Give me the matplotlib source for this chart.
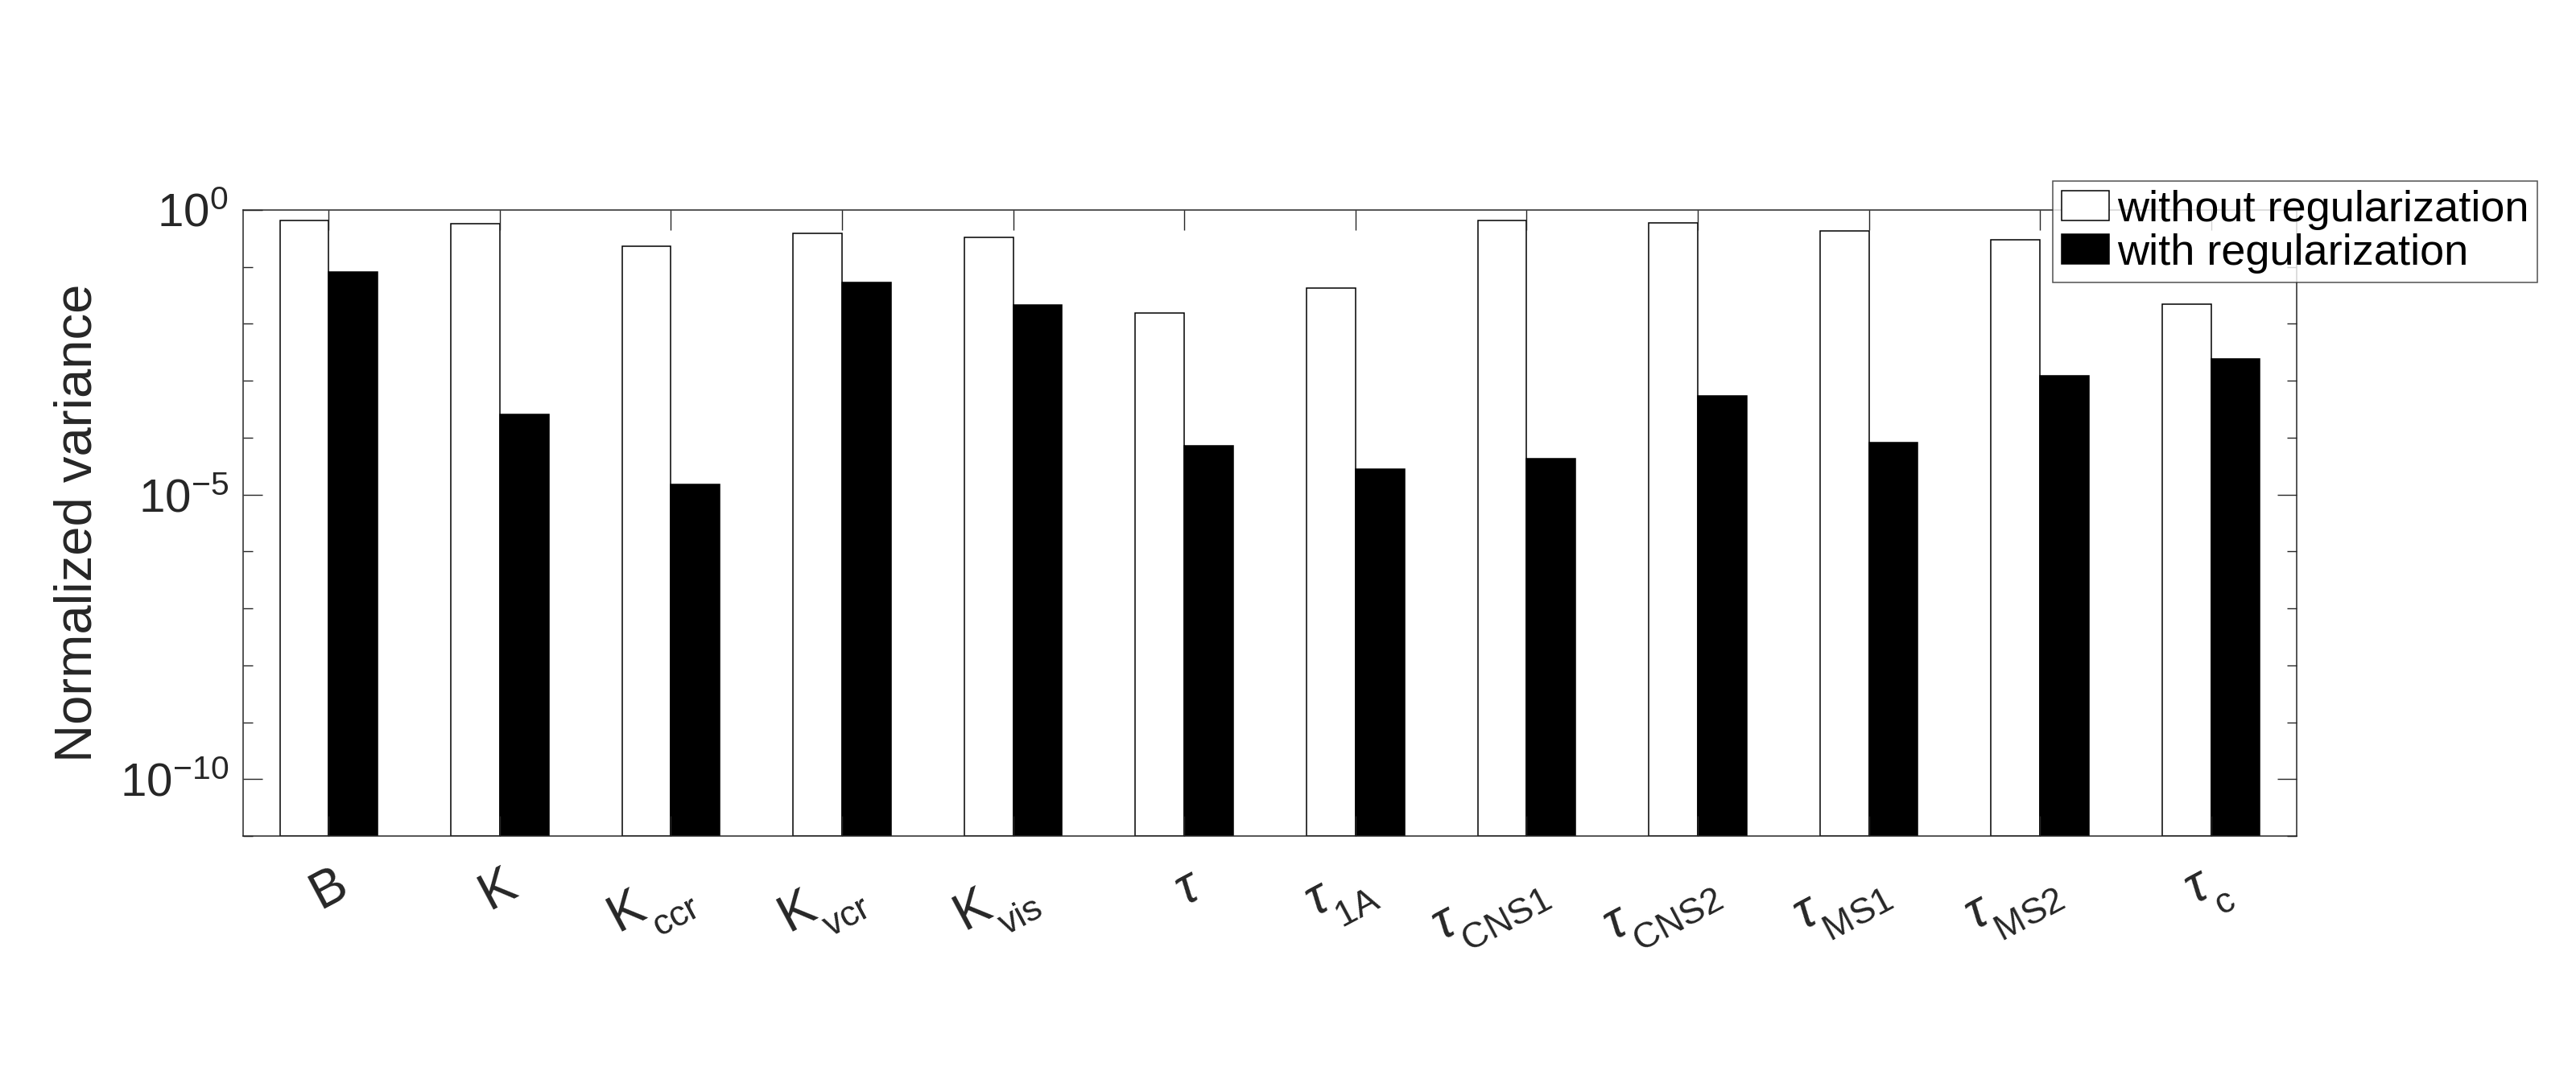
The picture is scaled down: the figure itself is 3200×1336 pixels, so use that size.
import numpy as np
import matplotlib
matplotlib.use("Agg")
import matplotlib.pyplot as plt
import matplotlib._mathtext as mathtext
from matplotlib.ticker import NullFormatter, FixedLocator
from matplotlib.transforms import ScaledTranslation

plt.rcParams['font.family'] = ['Liberation Sans', 'DejaVu Sans']
plt.rcParams['mathtext.fontset'] = 'custom'
plt.rcParams['mathtext.rm'] = 'Liberation Sans'
plt.rcParams['mathtext.it'] = 'Liberation Sans:italic'
plt.rcParams['mathtext.bf'] = 'Liberation Sans:bold'
# subscritos mais baixos, como no MATLAB
mathtext.FontConstantsBase.sub1 = 0.83

# parametros
param_labels = [r'$\mathrm{B}$', r'$\mathrm{K}$', r'$\mathrm{K}_{\mathrm{ccr}}$',
                r'$\mathrm{K}_{\mathrm{vcr}}$', r'$\mathrm{K}_{\mathrm{vis}}$',
                r'$\tau$', r'$\tau_{\mathrm{1A}}$', r'$\tau_{\mathrm{CNS1}}$', r'$\tau_{\mathrm{CNS2}}$',
                r'$\tau_{\mathrm{MS1}}$', r'$\tau_{\mathrm{MS2}}$', r'$\tau_{\mathrm{c}}$']

# variancia normalizada
var_without = [0.646, 0.575, 0.234, 0.389, 0.331, 0.0155, 0.0427, 0.646, 0.589, 0.427, 0.295, 0.0219]
var_with = [0.0813, 2.57e-4, 1.51e-5, 0.0537, 0.0214, 7.24e-5, 2.82e-5, 4.27e-5, 5.5e-4, 8.3e-5, 1.23e-3, 2.4e-3]

ytick_major = [1e-10, 1e-5, 1e0]
ytick_minor = [1e-11, 1e-9, 1e-8, 1e-7, 1e-6, 1e-4, 1e-3, 1e-2, 1e-1]

W, H = 3200, 1336
fig = plt.figure(figsize=(W / 100, H / 100), dpi=100)
ax = fig.add_axes([302 / W, 1 - 1039 / H, (2853 - 302) / W, (1039 - 261) / H])

gray = '#262626'
x = np.arange(1, len(param_labels) + 1)
bw = 2 / 7
b0 = 1e-11
ax.bar(x - bw / 2, np.array(var_without) - b0, bw, bottom=b0, color='white',
       edgecolor='black', linewidth=1.1, label='without regularization')
ax.bar(x + bw / 2, np.array(var_with) - b0, bw, bottom=b0, color='black',
       edgecolor='black', linewidth=1.1, label='with regularization')

ax.set_yscale('log')
ax.set_ylim(1e-11, 1e0)
ax.set_xlim(0.5, len(param_labels) + 0.5)

ax.yaxis.set_major_locator(FixedLocator(ytick_major))
ax.yaxis.set_minor_locator(FixedLocator(ytick_minor))
ax.yaxis.set_minor_formatter(NullFormatter())
ax.set_yticklabels([r'$\mathrm{10^{-10}}$', r'$\mathrm{10^{-5}}$', r'$\mathrm{10^{0}}$'])

ax.set_xticks(x)
ax.set_xticklabels(param_labels, rotation=28, ha='right', va='top', rotation_mode='anchor')

ax.tick_params(axis='both', which='both', direction='in', top=True, right=True,
               colors=gray, width=1.0)
ax.tick_params(axis='y', which='major', length=17, labelsize=42, pad=13)
ax.tick_params(axis='y', which='minor', length=8.6)
ax.tick_params(axis='x', which='major', length=17.8, labelsize=46, pad=23)
ax.tick_params(labelcolor=gray)

# desloca os rotulos do eixo x um pouco para a direita
offset = ScaledTranslation(0.04, 0, fig.dpi_scale_trans)
for lbl in ax.get_xticklabels():
    lbl.set_transform(lbl.get_transform() + offset)

for s in ax.spines.values():
    s.set_color(gray)
    s.set_linewidth(1.1)

ax.set_ylabel('Normalized variance', fontsize=47, color=gray, va='center')
ax.yaxis.set_label_coords(-0.0804, 0.5)

leg = ax.legend(loc='upper right', bbox_to_anchor=(3152 / W, 1 - 224.7 / H),
                bbox_transform=fig.transFigure, fontsize=39, frameon=True, fancybox=False,
                borderaxespad=0, borderpad=0.2, handlelength=1.1, handleheight=0.68,
                handletextpad=0.17, labelspacing=0.08)
leg.get_frame().set_edgecolor(gray)
leg.get_frame().set_linewidth(1.1)

fig.savefig('out.png', dpi=100, facecolor='white')
